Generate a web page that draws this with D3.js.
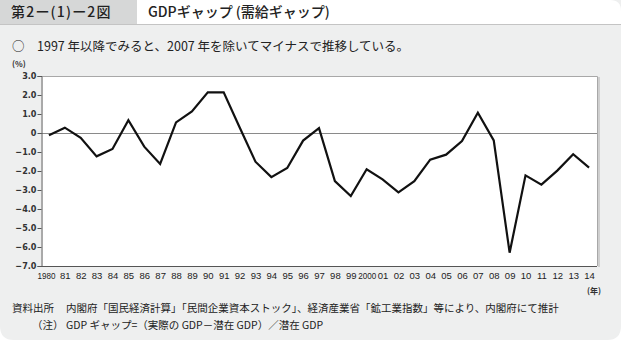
<!DOCTYPE html>
<html><head><meta charset="utf-8">
<script src="https://cdn.jsdelivr.net/npm/d3@7"></script>
<style>
html,body{margin:0;padding:0;background:#fff;}
svg{display:block;font-family:"Noto Sans CJK JP","Noto Sans",sans-serif;}
</style></head>
<body><svg id="c" width="621" height="340"></svg>
<script>
const years = ["1980","81","82","83","84","85","86","87","88","89","90","91","92","93","94","95","96","97","98","99","2000","01","02","03","04","05","06","07","08","09","10","11","12","13","14"];
const gap = [-0.12,0.28,-0.25,-1.23,-0.84,0.67,-0.72,-1.63,0.56,1.14,2.14,2.14,0.3,-1.51,-2.32,-1.84,-0.40,0.26,-2.53,-3.32,-1.91,-2.44,-3.12,-2.54,-1.40,-1.14,-0.42,1.07,-0.39,-6.30,-2.23,-2.72,-1.98,-1.12,-1.82];
const yTicks = [3,2,1,0,-1,-2,-3,-4,-5,-6,-7];
const titleNo = "第2ー(1)ー2図";
const titleText = "GDPギャップ (需給ギャップ)";
const subtitle = "○　1997 年以降でみると、2007 年を除いてマイナスで推移している。";
const note1 = ["資料出所", "内閣府「国民経済計算」「民間企業資本ストック」、経済産業省「鉱工業指数」等により、内閣府にて推計"];
const note2 = ["（注）", "GDP ギャップ=（実際の GDP－潜在 GDP）／潜在 GDP"];

const svg = d3.select("#c");
svg.append("path")
  .attr("d","M0,0 H621 V326 Q621,340 607,340 H14 Q0,340 0,326 Z")
  .attr("fill","#eeefef");
svg.append("rect").attr("x",0).attr("y",0).attr("width",137).attr("height",24).attr("fill","#d6d7d7");
svg.append("path").attr("d","M137,0 H610 Q621,0 621,11 V24 H137 Z").attr("fill","#fff");
svg.append("line").attr("x1",0).attr("x2",621).attr("y1",24.5).attr("y2",24.5).attr("stroke","#c4c4c4");
svg.append("text").attr("x",11).attr("y",17).attr("font-size",14).attr("font-weight",500).attr("fill","#222")
  .attr("letter-spacing",1.2).text(titleNo);
svg.append("text").attr("x",148).attr("y",17).attr("font-size",14).attr("font-weight",500).attr("fill","#222").text(titleText);
svg.append("text").attr("x",12).attr("y",51).attr("font-size",12.5).attr("fill","#222").text(subtitle);

const L=41, R=597, T=76, B=266;
const x = d3.scalePoint().domain(years).range([L,R]).padding(0.5);
const y = d3.scaleLinear().domain([-7,3]).range([B,T]);

svg.append("rect").attr("x",L).attr("y",T).attr("width",R-L).attr("height",B-T).attr("fill","#fff");
svg.append("path").attr("d",`M${L},${T+0.5} H${R+0.5} V${B}`).attr("fill","none").attr("stroke","#a8a8a8");
svg.append("line").attr("x1",R+2).attr("x2",R+2).attr("y1",T+1).attr("y2",B+1).attr("stroke","#cfcfcf").attr("stroke-width",2);
svg.append("line").attr("x1",L).attr("x2",R).attr("y1",Math.round(y(0))+0.5).attr("y2",Math.round(y(0))+0.5).attr("stroke","#8a8a8a");

const ya = svg.append("g").attr("transform",`translate(${L+0.5},0)`)
  .call(d3.axisLeft(y).tickValues(yTicks).tickSize(4).tickFormat(d=>d===0?"0":d3.format(".1f")(d)));
ya.select(".domain").attr("stroke","#555");
ya.selectAll(".tick line").attr("stroke","#555");
ya.selectAll("text").attr("font-size",9).attr("font-weight","bold").attr("fill","#333").attr("x",-5)
  .style("font-family","'DejaVu Sans Condensed','Noto Sans',sans-serif");
const xa = svg.append("g").attr("transform",`translate(0,${B+0.5})`)
  .call(d3.axisBottom(x).tickSize(0).tickPadding(6));
xa.select(".domain").attr("stroke","#555").attr("d",`M${L},0H${R}`);
xa.selectAll("text").attr("font-size",9.5).attr("fill","#222")
  .style("font-family","'Liberation Sans','Noto Sans',sans-serif");
xa.selectAll("text").filter(d=>d.length>2)
  .attr("textLength",18).attr("lengthAdjust","spacingAndGlyphs")
  .attr("x",d=>d==="1980"?-3:0);

svg.append("text").attr("x",12).attr("y",67).attr("font-size",8).attr("font-weight","bold").attr("fill","#333").text("(%)");
svg.append("text").attr("x",587).attr("y",294).attr("font-size",8).attr("font-weight","bold").attr("fill","#333").text("(年)");

svg.append("path").datum(gap)
  .attr("d", d3.line().x((d,i)=>x(years[i])).y(d=>y(d)))
  .attr("fill","none").attr("stroke","#111").attr("stroke-width",2.2).attr("stroke-linejoin","miter");

const nf = 10.5;
svg.append("text").attr("x",12).attr("y",312).attr("font-size",nf).attr("fill","#222").text(note1[0]);
svg.append("text").attr("x",66).attr("y",312).attr("font-size",nf).attr("fill","#222").text(note1[1]);
svg.append("text").attr("x",32).attr("y",329).attr("font-size",nf).attr("fill","#222").text(note2[0]);
svg.append("text").attr("x",66).attr("y",329).attr("font-size",nf).attr("fill","#222").text(note2[1]);
</script></body></html>
